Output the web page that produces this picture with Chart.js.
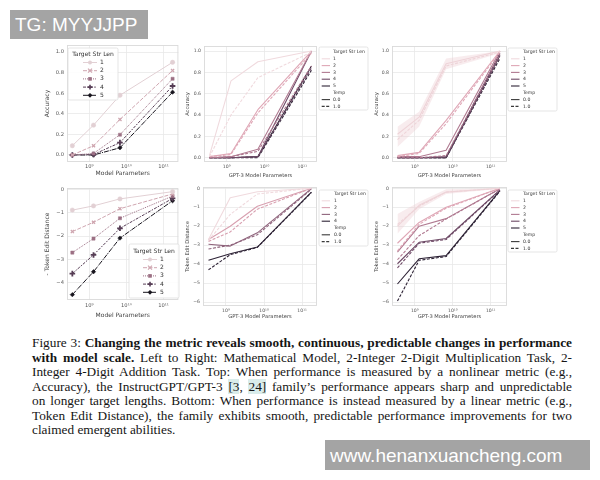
<!DOCTYPE html>
<html><head><meta charset="utf-8">
<script src="https://cdn.jsdelivr.net/npm/chart.js@4.4.0/dist/chart.umd.min.js"></script>
<style>
html,body{margin:0;padding:0;background:#fff;}
#page{position:relative;width:600px;height:480px;overflow:hidden;background:#fff;}
#page canvas{position:absolute;}
.wm{position:absolute;background:#a4a4a4;color:#fff;font-family:"Liberation Sans",Arial,sans-serif;font-size:19px;line-height:1;white-space:nowrap;box-sizing:border-box;}
#caption{position:absolute;left:32px;top:336px;width:540px;font-family:"Liberation Serif","Times New Roman",serif;font-size:13.3px;color:#151515;}
#caption .ln{height:14.5px;line-height:14.5px;text-align:justify;text-align-last:justify;white-space:nowrap;overflow:visible;}
#caption .ln.last{text-align-last:left;}
#caption .cite{background:#d9ecea;}
#measure{position:absolute;left:0;top:0;visibility:hidden;white-space:nowrap;font-family:"Liberation Serif","Times New Roman",serif;font-size:13.3px;}
</style></head>
<body>
<div id="page">
  <div id="caption">
    <div class="ln">Figure 3: <b>Changing the metric reveals smooth, continuous, predictable changes in performance</b></div>
    <div class="ln"><b>with model scale.</b> Left to Right: Mathematical Model, 2-Integer 2-Digit Multiplication Task, 2-</div>
    <div class="ln">Integer 4-Digit Addition Task. Top: When performance is measured by a nonlinear metric (e.g.,</div>
    <div class="ln">Accuracy), the InstructGPT/GPT-3 <span class="cite">[3</span>, <span class="cite">24]</span> family’s performance appears sharp and unpredictable</div>
    <div class="ln">on longer target lengths. Bottom: When performance is instead measured by a linear metric (e.g.,</div>
    <div class="ln">Token Edit Distance), the family exhibits smooth, predictable performance improvements for two</div>
    <div class="ln last">claimed emergent abilities.</div>
  </div>
  <span id="measure"></span>
  <div class="wm" style="left:10px;top:10px;width:138px;height:29px;padding:5px 0 0 5px;">TG: MYYJJPP</div>
  <div class="wm" style="left:325px;top:440px;width:265px;height:30px;padding:6px 0 0 5px;">www.henanxuancheng.com</div>
</div>
<script>
// ---------- data ----------
const modelParams = [3.5e8, 1.3e9, 6.7e9, 1.75e11];
const strLens = ['1', '2', '3', '4', '5'];
const tempLabels = ['0.0', '1.0'];
const xTickValues = [1e9, 1e10, 1e11];
const accTicks = [0, 0.2, 0.4, 0.6, 0.8, 1.0];
const tedTicksMath = [0, -1, -2, -3, -4];
const tedTicksGpt = [0, -1, -2, -3, -4, -5, -6];

// Mathematical model (rows = target str len 1..5)
const mathAcc = [
  [0.09, 0.29, 0.58, 0.90],
  [0.00, 0.09, 0.345, 0.82],
  [0.00, 0.015, 0.197, 0.74],
  [0.00, 0.005, 0.12, 0.67],
  [0.00, 0.00, 0.07, 0.61]
];
const mathTed = [
  [-0.89, -0.71, -0.41, -0.10],
  [-1.81, -1.41, -0.83, -0.20],
  [-2.71, -2.11, -1.24, -0.29],
  [-3.61, -2.81, -1.67, -0.39],
  [-4.51, -3.53, -2.09, -0.49]
];
// 2-Integer 2-Digit Multiplication, accuracy
const mulAccT0 = [
  [0.02, 0.72, 0.90, 1.00],
  [0.01, 0.04, 0.45, 1.00],
  [0.00, 0.01, 0.08, 1.00],
  [0.00, 0.00, 0.01, 1.00],
  [0.00, 0.00, 0.01, 0.86]
];
const mulAccT1 = [
  [0.01, 0.40, 0.75, 0.99],
  [0.01, 0.03, 0.42, 0.98],
  [0.00, 0.01, 0.06, 0.86],
  [0.00, 0.00, 0.01, 0.84],
  [0.00, 0.00, 0.00, 0.82]
];
// 2-Integer 4-Digit Addition, accuracy
const addAccT0 = [
  [0.22, 0.38, 0.88, 1.00],
  [0.02, 0.05, 0.35, 1.00],
  [0.01, 0.01, 0.07, 1.00],
  [0.00, 0.00, 0.01, 0.98],
  [0.00, 0.00, 0.00, 0.96]
];
const addAccT1 = [
  [0.17, 0.35, 0.86, 0.99],
  [0.01, 0.04, 0.32, 0.99],
  [0.00, 0.00, 0.02, 0.97],
  [0.00, 0.00, 0.00, 0.95],
  [0.00, 0.00, 0.00, 0.93]
];
const addAccBandLo = [0.10, 0.29, 0.83, 0.98];
const addAccBandHi = [0.29, 0.43, 0.93, 1.00];
// Multiplication, token edit distance (len 1..4)
const mulTedT0 = [
  [-2.70, -0.50, -0.18, 0.00],
  [-2.70, -2.00, -0.95, 0.00],
  [-2.95, -3.05, -2.35, -0.02],
  [-3.80, -3.45, -3.10, -0.20]
];
const mulTedT1 = [
  [-2.75, -1.38, -0.30, 0.00],
  [-2.80, -2.30, -1.10, 0.00],
  [-3.20, -3.00, -2.45, -0.05],
  [-4.30, -3.50, -3.12, -0.22]
];
// Addition, token edit distance (len 1..5)
const addTedT0 = [
  [-2.00, -0.90, -0.20, 0.00],
  [-2.90, -1.80, -1.00, 0.00],
  [-3.37, -2.00, -1.60, -0.02],
  [-3.98, -2.85, -2.65, -0.08],
  [-5.05, -3.72, -3.55, -0.12]
];
const addTedT1 = [
  [-1.90, -0.95, -0.20, 0.00],
  [-3.30, -1.90, -1.05, 0.00],
  [-3.77, -2.50, -1.62, -0.03],
  [-4.20, -2.90, -2.70, -0.10],
  [-5.95, -3.80, -3.60, -0.15]
];
const addTedBandLo = [-2.40, -1.10, -0.30, -0.02];
const addTedBandHi = [-1.35, -0.72, -0.05, 0.00];

// ---------- styles ----------
const mathColors = ['#e2d0d4', '#cfa6b0', '#9c7084', '#563d55', '#17141d'];
const gptColors5 = ['#f0dade', '#dfa7b6', '#b07a91', '#6e4a66', '#2e2336'];
const gptColors4 = ['#f0dade', '#d8a0b0', '#8f647c', '#2e2336'];
const mathDashes = [[], [4, 1.5], [1, 1], [3, 1.25, 1.5, 1.25], [5, 1, 1, 1]];
const mathMarkers = ['circle', 'crossRot', 'rect', 'cross', 'rectRot'];
const tempDashes = [[], [3, 1.5]];
const FONT = '"DejaVu Sans", sans-serif';

// fit caption lines into the column width
(function fitCaption() {
  const m = document.getElementById('measure');
  document.querySelectorAll('#caption .ln').forEach(ln => {
    m.innerHTML = ln.innerHTML;
    const wNat = m.getBoundingClientRect().width;
    if (wNat > 539) ln.style.fontSize = (13.3 * 539 / wNat).toFixed(2) + 'px';
  });
  m.innerHTML = '';
})();

const page = document.getElementById('page');
const supMap = {'0':'⁰','1':'¹','2':'²','3':'³','4':'⁴','5':'⁵','6':'⁶','7':'⁷','8':'⁸','9':'⁹'};
const fmtPow = v => '10' + String(Math.round(Math.log10(v))).split('').map(c => supMap[c]).join('');
const fmtAcc = v => Number(v).toFixed(1);
const fmtTed = v => v === 0 ? '0' : '\u2212' + Math.abs(v);

function pts(arr) { return modelParams.map((x, i) => ({x: x, y: arr[i]})); }

function lineDs(arr, color, dash, lw, marker) {
  return {
    data: pts(arr), borderColor: color, backgroundColor: color, borderWidth: lw,
    borderDash: dash, fill: false, tension: 0, borderJoinStyle: 'round',
    pointRadius: marker ? (marker === 'cross' ? 2.8 : 2.2) : 0,
    pointStyle: marker || 'circle', pointBackgroundColor: color, pointBorderColor: color,
    pointBorderWidth: marker === 'cross' ? 1.8 : (marker === 'crossRot' ? 1.3 : 0.5),
    pointHoverRadius: 0
  };
}
function bandDs(lo, hi, color) {
  return [
    {data: pts(lo), borderWidth: 0, pointRadius: 0, fill: false, borderColor: 'rgba(0,0,0,0)'},
    {data: pts(hi), borderWidth: 0, pointRadius: 0, fill: '-1', backgroundColor: color, borderColor: 'rgba(0,0,0,0)'}
  ];
}

function drawMarker(ctx, style, x, y, r, color) {
  ctx.save();
  ctx.fillStyle = color; ctx.strokeStyle = color; ctx.setLineDash([]);
  ctx.beginPath();
  if (style === 'circle') { ctx.arc(x, y, r, 0, Math.PI * 2); ctx.fill(); }
  else if (style === 'rect') { ctx.fillRect(x - r * 0.9, y - r * 0.9, r * 1.8, r * 1.8); }
  else if (style === 'rectRot') { ctx.moveTo(x, y - r * 1.2); ctx.lineTo(x + r * 1.2, y); ctx.lineTo(x, y + r * 1.2); ctx.lineTo(x - r * 1.2, y); ctx.closePath(); ctx.fill(); }
  else if (style === 'cross') { ctx.lineWidth = 1.6; ctx.moveTo(x - r * 1.2, y); ctx.lineTo(x + r * 1.2, y); ctx.moveTo(x, y - r * 1.2); ctx.lineTo(x, y + r * 1.2); ctx.stroke(); }
  else if (style === 'crossRot') { ctx.lineWidth = 1.2; ctx.moveTo(x - r, y - r); ctx.lineTo(x + r, y + r); ctx.moveTo(x + r, y - r); ctx.lineTo(x - r, y + r); ctx.stroke(); }
  ctx.restore();
}

function makeLegendPlugin(L, ox, oy) {
  return {
    id: 'boxLegend',
    afterDraw(chart) {
      const ctx = chart.ctx;
      ctx.save();
      const b = L.box, x0 = b.x - ox, y0 = b.y - oy, rr = 1.5;
      ctx.beginPath();
      ctx.moveTo(x0 + rr, y0); ctx.lineTo(x0 + b.w - rr, y0); ctx.quadraticCurveTo(x0 + b.w, y0, x0 + b.w, y0 + rr);
      ctx.lineTo(x0 + b.w, y0 + b.h - rr); ctx.quadraticCurveTo(x0 + b.w, y0 + b.h, x0 + b.w - rr, y0 + b.h);
      ctx.lineTo(x0 + rr, y0 + b.h); ctx.quadraticCurveTo(x0, y0 + b.h, x0, y0 + b.h - rr);
      ctx.lineTo(x0, y0 + rr); ctx.quadraticCurveTo(x0, y0, x0 + rr, y0); ctx.closePath();
      ctx.fillStyle = 'rgba(255,255,255,0.85)'; ctx.fill();
      ctx.strokeStyle = '#dedede'; ctx.lineWidth = 0.8; ctx.stroke();
      ctx.textBaseline = 'middle';
      ctx.font = L.fontSize + 'px ' + FONT;
      if (L.title) {
        ctx.fillStyle = '#333'; ctx.textAlign = L.titleAlign;
        ctx.fillText(L.title, L.titleX - ox, L.titleY - oy);
      }
      L.rows.forEach((r, k) => {
        const y = L.rowY0 + k * L.rowStep - oy;
        if (r.color) {
          ctx.save();
          ctx.strokeStyle = r.color; ctx.lineWidth = r.lw; ctx.setLineDash(r.dash || []);
          ctx.beginPath(); ctx.moveTo(L.sx0 - ox, y); ctx.lineTo(L.sx1 - ox, y); ctx.stroke();
          ctx.restore();
          if (r.marker) drawMarker(ctx, r.marker, (L.sx0 + L.sx1) / 2 - ox, y, 2.0, r.color);
        }
        ctx.fillStyle = '#333'; ctx.textAlign = 'left';
        ctx.fillText(r.label, L.lx - ox, y);
      });
      ctx.restore();
    }
  };
}

const framePlugin = {
  id: 'frame',
  beforeDatasetsDraw(chart) {
    const a = chart.chartArea, ctx = chart.ctx;
    ctx.save(); ctx.strokeStyle = '#dadada'; ctx.lineWidth = 0.9;
    ctx.strokeRect(a.left + 0.5, a.top + 0.5, a.right - a.left - 1, a.bottom - a.top - 1);
    ctx.restore();
  }
};

function makePanel(o) {
  const padT = 6;
  const left = o.plot.l - o.yW, top = o.plot.t - padT;
  const w = (o.plot.r - o.plot.l) + o.yW + o.extraR;
  const h = (o.plot.b - o.plot.t) + padT + o.xH;
  const cv = document.createElement('canvas');
  cv.width = w; cv.height = h;
  cv.style.left = left + 'px'; cv.style.top = top + 'px';
  cv.style.width = w + 'px'; cv.style.height = h + 'px';
  page.insertBefore(cv, page.firstChild);
  const gridC = '#e8e8e8';
  new Chart(cv, {
    type: 'line',
    data: {datasets: o.datasets},
    options: {
      responsive: false, animation: false, maintainAspectRatio: false,
      layout: {padding: {top: padT, right: o.extraR, left: 0, bottom: 0}},
      plugins: {legend: {display: false}, tooltip: {enabled: false}},
      events: [],
      scales: {
        x: {
          type: 'logarithmic', min: Math.pow(10, o.xMin), max: Math.pow(10, o.xMax),
          afterBuildTicks: s => { s.ticks = xTickValues.map(v => ({value: v})); },
          afterFit: s => { s.height = o.xH; s.paddingLeft = 0; s.paddingRight = 0; },
          ticks: {callback: v => fmtPow(v), autoSkip: false, maxRotation: 0, padding: o.xTickPad,
                  font: {family: FONT, size: o.tickSize}, color: '#555'},
          grid: {color: gridC, lineWidth: 0.8, drawTicks: false},
          border: {display: false},
          title: {display: true, text: o.xTitle, padding: 0, font: {family: FONT, size: o.titleSize}, color: '#444'}
        },
        y: {
          type: 'linear', min: o.yMin, max: o.yMax,
          afterBuildTicks: s => { s.ticks = o.yTicks.map(v => ({value: v})); },
          afterFit: s => { s.width = o.yW; s.paddingTop = 0; s.paddingBottom = 0; },
          ticks: {callback: v => o.yFmt(v), padding: 3, font: {family: FONT, size: o.tickSize}, color: '#555'},
          grid: {color: gridC, lineWidth: 0.8, drawTicks: false},
          border: {display: false},
          title: {display: true, text: o.yTitle, padding: 0, font: {family: FONT, size: o.titleSize}, color: '#444'}
        }
      }
    },
    plugins: [framePlugin, makeLegendPlugin(o.legend, left, top)]
  });
}

function mathDatasets(rows) {
  return rows.map((arr, i) => lineDs(arr, mathColors[i], mathDashes[i], 1, mathMarkers[i]));
}
function gptDatasets(t0, t1, colors) {
  const ds = [];
  t0.forEach((arr, i) => {
    ds.push(lineDs(t1[i], colors[i], tempDashes[1], 1.1, null));
    ds.push(lineDs(arr, colors[i], tempDashes[0], 1.1, null));
  });
  return ds;
}
function mathLegendRows() {
  return strLens.map((s, i) => ({label: s, color: mathColors[i], dash: mathDashes[i], lw: 1, marker: mathMarkers[i]}));
}
function gptLegendRows(colors) {
  const rows = colors.map((c, i) => ({label: strLens[i], color: c, dash: [], lw: 1.1}));
  rows.push({label: 'Temp'});
  tempLabels.forEach((t, i) => rows.push({label: t, color: '#3a3a3a', dash: tempDashes[i], lw: 1.1}));
  return rows;
}

// Panel 1 top: Mathematical model, accuracy
makePanel({
  plot: {l: 67, t: 45, r: 180, b: 162}, yW: 23, xH: 15, extraR: 3,
  xMin: 8.40, xMax: 11.40, yMin: -0.068, yMax: 1.068, yTicks: accTicks, yFmt: fmtAcc,
  yTitle: 'Accuracy', xTitle: 'Model Parameters', tickSize: 5.2, titleSize: 6, xTickPad: 2,
  datasets: mathDatasets(mathAcc),
  legend: {box: {x: 68, y: 48, w: 50, h: 52}, fontSize: 6, title: 'Target Str Len', titleAlign: 'center',
           titleX: 93, titleY: 54.5, rowY0: 62.5, rowStep: 8.2, sx0: 83, sx1: 97, lx: 100, rows: mathLegendRows()}
});
// Panel 1 bottom: Mathematical model, -token edit distance
makePanel({
  plot: {l: 67, t: 188, r: 180, b: 300}, yW: 23, xH: 19, extraR: 3,
  xMin: 8.40, xMax: 11.40, yMin: -4.74, yMax: 0.056, yTicks: tedTicksMath, yFmt: fmtTed,
  yTitle: '- Token Edit Distance', xTitle: 'Model Parameters', tickSize: 5.2, titleSize: 6, xTickPad: 3,
  datasets: mathDatasets(mathTed),
  legend: {box: {x: 129, y: 244, w: 50, h: 54}, fontSize: 6, title: 'Target Str Len', titleAlign: 'center',
           titleX: 154, titleY: 251, rowY0: 259.5, rowStep: 8.2, sx0: 143, sx1: 157, lx: 160, rows: mathLegendRows()}
});
// Panel 2 top: multiplication accuracy
makePanel({
  plot: {l: 204, t: 46, r: 317, b: 162}, yW: 19, xH: 17, extraR: 53,
  xMin: 8.40, xMax: 11.39, yMin: -0.04, yMax: 1.047, yTicks: accTicks, yFmt: fmtAcc,
  yTitle: 'Accuracy', xTitle: 'GPT-3 Model Parameters', tickSize: 4.6, titleSize: 5.2, xTickPad: 2,
  datasets: gptDatasets(mulAccT0, mulAccT1, gptColors5),
  legend: {box: {x: 319, y: 47, w: 49, h: 63}, fontSize: 4.6, title: 'Target Str Len', titleAlign: 'left',
           titleX: 333, titleY: 52, rowY0: 58.8, rowStep: 6.8, sx0: 321.7, sx1: 330, lx: 333, rows: gptLegendRows(gptColors5)}
});
// Panel 3 top: addition accuracy
makePanel({
  plot: {l: 392, t: 46, r: 507, b: 162}, yW: 18, xH: 17, extraR: 52,
  xMin: 8.40, xMax: 11.43, yMin: -0.04, yMax: 1.047, yTicks: accTicks, yFmt: fmtAcc,
  yTitle: 'Accuracy', xTitle: 'GPT-3 Model Parameters', tickSize: 4.6, titleSize: 5.2, xTickPad: 2,
  datasets: bandDs(addAccBandLo, addAccBandHi, 'rgba(235,200,206,0.35)').concat(gptDatasets(addAccT0, addAccT1, gptColors5)),
  legend: {box: {x: 508, y: 48, w: 49, h: 63}, fontSize: 4.6, title: 'Target Str Len', titleAlign: 'left',
           titleX: 523, titleY: 52, rowY0: 58.8, rowStep: 6.8, sx0: 511, sx1: 519.5, lx: 523, rows: gptLegendRows(gptColors5)}
});
// Panel 2 bottom: multiplication token edit distance
makePanel({
  plot: {l: 203, t: 187, r: 317, b: 306}, yW: 18, xH: 14, extraR: 53,
  xMin: 8.40, xMax: 11.39, yMin: -6.21, yMax: 0.069, yTicks: tedTicksGpt, yFmt: fmtTed,
  yTitle: 'Token Edit Distance', xTitle: 'GPT-3 Model Parameters', tickSize: 4.6, titleSize: 5.2, xTickPad: 2,
  datasets: gptDatasets(mulTedT0, mulTedT1, gptColors4),
  legend: {box: {x: 319, y: 190, w: 49, h: 56}, fontSize: 4.6, title: 'Target Str Len', titleAlign: 'left',
           titleX: 334, titleY: 194, rowY0: 200.8, rowStep: 6.8, sx0: 321.7, sx1: 330, lx: 334, rows: gptLegendRows(gptColors4)}
});
// Panel 3 bottom: addition token edit distance
makePanel({
  plot: {l: 392, t: 187, r: 507, b: 306}, yW: 18, xH: 14, extraR: 52,
  xMin: 8.40, xMax: 11.43, yMin: -6.21, yMax: 0.069, yTicks: tedTicksGpt, yFmt: fmtTed,
  yTitle: 'Token Edit Distance', xTitle: 'GPT-3 Model Parameters', tickSize: 4.6, titleSize: 5.2, xTickPad: 2,
  datasets: bandDs(addTedBandLo, addTedBandHi, 'rgba(235,200,206,0.35)').concat(gptDatasets(addTedT0, addTedT1, gptColors5)),
  legend: {box: {x: 508, y: 190, w: 49, h: 62}, fontSize: 4.6, title: 'Target Str Len', titleAlign: 'left',
           titleX: 523, titleY: 194, rowY0: 200.8, rowStep: 6.8, sx0: 511, sx1: 519.5, lx: 523, rows: gptLegendRows(gptColors5)}
});
</script>
</body></html>
